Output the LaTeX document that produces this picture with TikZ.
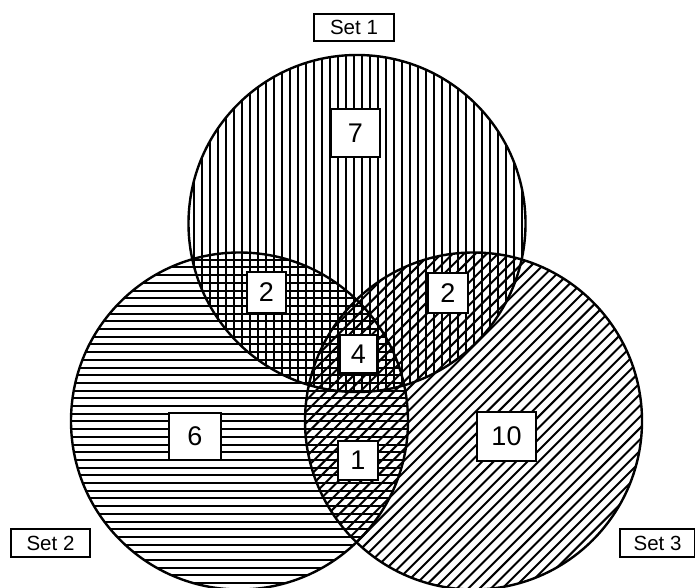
\documentclass[tikz,border=0pt]{standalone}
\usepackage{fontspec}
\setmainfont{Liberation Sans}
\usetikzlibrary{positioning}

\begin{document}
\begin{tikzpicture}[
  x=1pt, y=-1pt,
  setlabel/.style={draw, line width=1.1pt, fill=white, inner sep=0pt, minimum width=79pt, minimum height=27pt, font=\fontsize{20.5}{24}\selectfont},
  count/.style={draw, line width=1.1pt, fill=white, inner sep=0pt, minimum width=40pt, minimum height=40pt, font=\fontsize{27}{30}\selectfont},
  ring/.style={line width=2.4pt},
  hatch/.style={line width=2pt}
]
\useasboundingbox (0,0) rectangle (695,588);

\coordinate (c1) at (357,223.5);
\coordinate (c2) at (239.5,421);
\coordinate (c3) at (473.5,421);
\def\rad{168.5}

% set 1: vertical lines
\begin{scope}
  \clip (c1) circle[radius=\rad];
  \foreach \x in {186,194,...,530} \draw[hatch] (\x,50) -- (\x,400);
\end{scope}
% set 2: horizontal lines
\begin{scope}
  \clip (c2) circle[radius=\rad];
  \foreach \y in {252,259.7,...,592} \draw[hatch] (65,\y) -- (415,\y);
\end{scope}
% set 3: diagonal lines
\begin{scope}
  \clip (c3) circle[radius=\rad];
  \foreach \k in {650,661.3,...,1140} \draw[hatch] ({\k-240},240) -- ({\k-600},600);
\end{scope}

\draw[ring] (c1) circle[radius=\rad];
\draw[ring] (c2) circle[radius=\rad];
\draw[ring] (c3) circle[radius=\rad];

\node[setlabel, minimum width=80pt] (set1) at (354,27.5) {Set 1};
\node[setlabel, minimum height=28pt] (set2) at (50.5,543) {Set 2};
\node[setlabel, minimum width=75pt, minimum height=28pt] (set3) at (657.5,543) {Set 3};

\node[count, minimum width=49pt, minimum height=48pt] (only1) at (355.5,133) {7};
\node[count, minimum width=39pt, minimum height=41pt] (in12) at (266.5,292.5) {2};
\node[count] (in13) at (448,293) {2};
\node[count, minimum width=37pt, minimum height=38pt] (in123) at (358.5,354) {4};
\node[count, minimum height=39pt] (in23) at (358,460.5) {1};
\node[count, minimum width=52pt, minimum height=47pt] (only2) at (195,436.5) {6};
\node[count, minimum width=59pt, minimum height=49pt] (only3) at (506.5,436.5) {10};

\end{tikzpicture}
\end{document}
